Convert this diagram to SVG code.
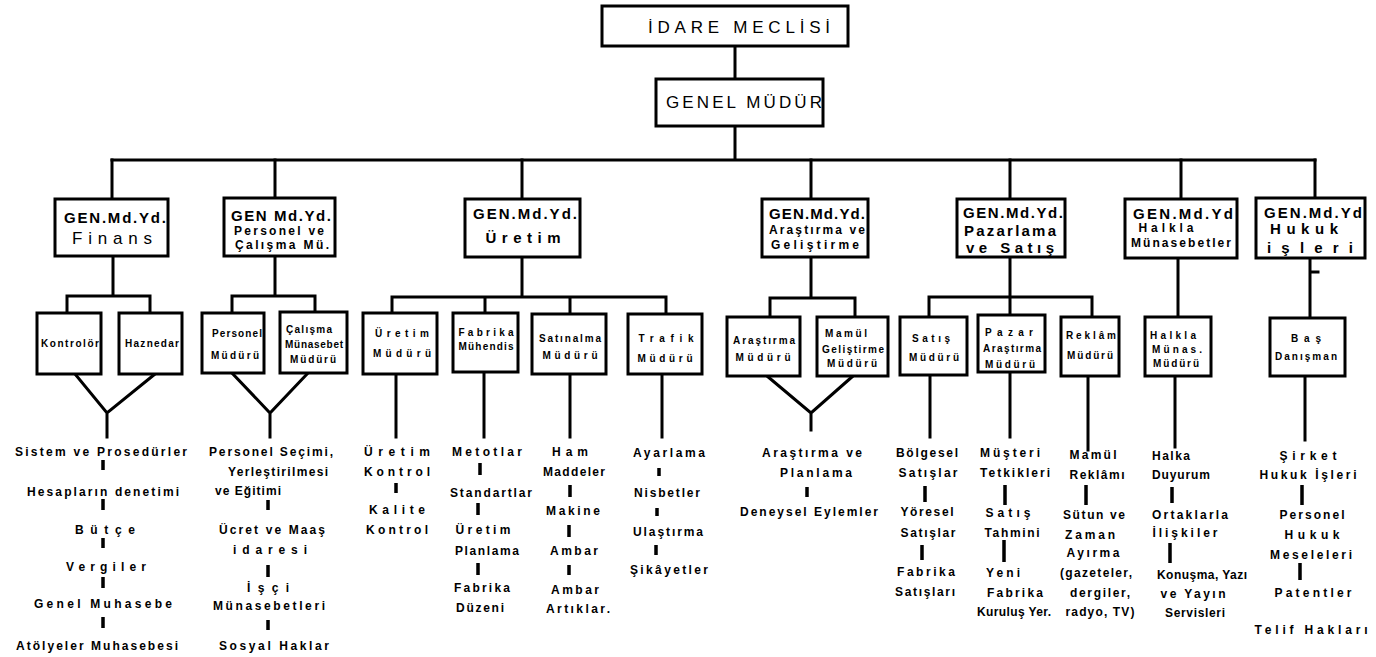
<svg xmlns="http://www.w3.org/2000/svg" width="1376" height="657" viewBox="0 0 1376 657">
<style>
.box{fill:#fff;stroke:#000;stroke-width:3}
.ln{stroke:#000;stroke-width:3;fill:none;stroke-linecap:square}
.tk{stroke:#000;stroke-width:3.5;stroke-linecap:butt}
text{font-family:"Liberation Sans",Arial,sans-serif;fill:#000;text-anchor:middle;dominant-baseline:central;font-weight:bold}
.t1{font-size:17px;font-weight:normal}
.t2{font-size:15px}
.t2s{font-size:12px}
.t3{font-size:10px}
.b{font-size:12px}
</style>
<rect width="1376" height="657" fill="#fff"/>

<g id="connectors">
<path class="ln" d="M735 46V79M735 126V160M112 160H1315"/>
<path class="ln" d="M112 160V199M275 160V198M522 160V199M811 160V199M1010 160V199M1181 160V199M1315 160V198"/>
<path class="ln" d="M113 256V296M67 296H150M67 296V313M150 296V313M75 374L107 413L155 374M107 413V437"/>
<path class="ln" d="M275 256V296M232 296H315M232 296V313M315 296V312M232 373L270 413L308 373M270 413V437"/>
<path class="ln" d="M522 257V297M392 297H666M392 297V313M485 297V313M570 297V314M666 297V314M396 375V437M484 372V437M570 374V437M662 374V437"/>
<path class="ln" d="M811 257V298M770 298H855M770 298V317M855 298V317M767 376L811 413L853 376M811 413V430"/>
<path class="ln" d="M1010 257V297M929 297H1092M929 297V317M1010 297V315M1092 297V317M930 375V437M1010 372V437M1088 376V450"/>
<path class="ln" d="M1178 258V317M1175 376V447"/>
<path class="ln" d="M1310 258V318M1310 272H1318M1305 376V440"/>
<path class="tk" d="M103 460V470M103 499V510M103 538V548M103 577V588M103 617V628"/>
<path class="tk" d="M268 500V510M268 565V577M268 620V630"/>
<path class="tk" d="M396 483V493"/>
<path class="tk" d="M480 463V475M478 503V515M478 563V575"/>
<path class="tk" d="M570 485V497M569 525V537M569 565V575"/>
<path class="tk" d="M659 468V476M657 508V516M656 545V555"/>
<path class="tk" d="M807 487V497"/>
<path class="tk" d="M925 486V502M922 545V560"/>
<path class="tk" d="M1005 485V505M1004 540V562"/>
<path class="tk" d="M1086 485V505"/>
<path class="tk" d="M1172 487V503M1170 543V563"/>
<path class="tk" d="M1302 485V505M1300 563V580"/>
</g>

<g id="idare"><rect class="box" x="602" y="6" width="246" height="40"/><text class="t1" x="739" y="27" textLength="182" lengthAdjust="spacing">İDARE MECLİSİ</text></g>
<g id="genel"><rect class="box" x="656" y="79" width="167" height="47"/><text class="t1" x="744" y="102" textLength="156" lengthAdjust="spacing">GENEL MÜDÜR</text></g>

<g id="finans"><rect class="box" x="55" y="199" width="113" height="57"/><text class="t2" x="115" y="217" textLength="102" lengthAdjust="spacing">GEN.Md.Yd.</text><text class="t1" x="112" y="238" textLength="80" lengthAdjust="spacing">Finans</text></g>
<g id="personel"><rect class="box" x="224" y="198" width="111" height="58"/><text class="t2" x="281" y="215" textLength="100" lengthAdjust="spacing">GEN Md.Yd.</text><text class="b" x="279" y="231" textLength="90" lengthAdjust="spacing">Personel ve</text><text class="b" x="282" y="245" textLength="94" lengthAdjust="spacing">Çalışma Mü.</text></g>
<g id="uretim"><rect class="box" x="465" y="199" width="115" height="58"/><text class="t2" x="525" y="213" textLength="104" lengthAdjust="spacing">GEN.Md.Yd.</text><text class="t2" x="523" y="237" textLength="75" lengthAdjust="spacing">Üretim</text></g>
<g id="arastirma"><rect class="box" x="762" y="199" width="106" height="58"/><text class="t2" x="817" y="213" textLength="96" lengthAdjust="spacing">GEN.Md.Yd.</text><text class="t2s" x="817" y="230" textLength="96" lengthAdjust="spacing">Araştırma ve</text><text class="t2s" x="815" y="245" textLength="88" lengthAdjust="spacing">Geliştirme</text></g>
<g id="pazarlama"><rect class="box" x="957" y="199" width="108" height="58"/><text class="t2" x="1013" y="212" textLength="100" lengthAdjust="spacing">GEN.Md.Yd.</text><text class="t2" x="1010" y="230" textLength="92" lengthAdjust="spacing">Pazarlama</text><text class="t2" x="1010" y="247" textLength="88" lengthAdjust="spacing">ve Satış</text></g>
<g id="halkla"><rect class="box" x="1125" y="199" width="112" height="59"/><text class="t2" x="1183" y="213" textLength="100" lengthAdjust="spacing">GEN.Md.Yd</text><text class="t2s" x="1166" y="228" textLength="55" lengthAdjust="spacing">Halkla</text><text class="t2s" x="1181" y="243" textLength="100" lengthAdjust="spacing">Münasebetler</text></g>
<g id="hukuk"><rect class="box" x="1256" y="198" width="109" height="60"/><text class="t2" x="1313" y="212" textLength="98" lengthAdjust="spacing">GEN.Md.Yd</text><text class="t2" x="1304" y="228" textLength="68" lengthAdjust="spacing">Hukuk</text><text class="t2" x="1310" y="247" textLength="86" lengthAdjust="spacing">işleri</text></g>

<g id="kontrolor"><rect class="box" x="37" y="313" width="64" height="61"/><text class="t3" x="70" y="343" textLength="58" lengthAdjust="spacing">Kontrolör</text></g>
<g id="haznedar"><rect class="box" x="119" y="313" width="63" height="61"/><text class="t3" x="152" y="343" textLength="54" lengthAdjust="spacing">Haznedar</text></g>
<g id="personel-mudur"><rect class="box" x="202" y="313" width="62" height="60"/><text class="t3" x="237" y="333" textLength="50" lengthAdjust="spacing">Personel</text><text class="t3" x="235" y="355" textLength="48" lengthAdjust="spacing">Müdürü</text></g>
<g id="calisma-mudur"><rect class="box" x="280" y="312" width="67" height="61"/><text class="t3" x="309" y="329" textLength="46" lengthAdjust="spacing">Çalışma</text><text class="t3" x="314" y="344" textLength="58" lengthAdjust="spacing">Münasebet</text><text class="t3" x="313" y="359" textLength="46" lengthAdjust="spacing">Müdürü</text></g>

<g id="uretim-mudur"><rect class="box" x="363" y="313" width="74" height="61"/><text class="t3" x="402" y="333" textLength="54" lengthAdjust="spacing">Üretim</text><text class="t3" x="402" y="353" textLength="58" lengthAdjust="spacing">Müdürü</text></g>
<g id="fabrika-muh"><rect class="box" x="453" y="313" width="65" height="59"/><text class="t3" x="486" y="332" textLength="55" lengthAdjust="spacing">Fabrika</text><text class="t3" x="486" y="346" textLength="55" lengthAdjust="spacing">Mühendis</text></g>
<g id="satinalma"><rect class="box" x="532" y="314" width="74" height="60"/><text class="t3" x="570" y="338" textLength="62" lengthAdjust="spacing">Satınalma</text><text class="t3" x="570" y="355" textLength="55" lengthAdjust="spacing">Müdürü</text></g>
<g id="trafik"><rect class="box" x="628" y="314" width="74" height="60"/><text class="t3" x="666" y="338" textLength="55" lengthAdjust="spacing">Trafik</text><text class="t3" x="665" y="358" textLength="55" lengthAdjust="spacing">Müdürü</text></g>

<g id="arastirma-mudur"><rect class="box" x="727" y="317" width="73" height="59"/><text class="t3" x="764" y="340" textLength="62" lengthAdjust="spacing">Araştırma</text><text class="t3" x="763" y="357" textLength="55" lengthAdjust="spacing">Müdürü</text></g>
<g id="mamul-gel"><rect class="box" x="817" y="317" width="71" height="59"/><text class="t3" x="846" y="333" textLength="42" lengthAdjust="spacing">Mamül</text><text class="t3" x="853" y="349" textLength="62" lengthAdjust="spacing">Geliştirme</text><text class="t3" x="852" y="363" textLength="50" lengthAdjust="spacing">Müdürü</text></g>

<g id="satis-mudur"><rect class="box" x="900" y="317" width="67" height="58"/><text class="t3" x="931" y="338" textLength="38" lengthAdjust="spacing">Satış</text><text class="t3" x="934" y="357" textLength="50" lengthAdjust="spacing">Müdürü</text></g>
<g id="pazar-arastirma"><rect class="box" x="978" y="315" width="67" height="57"/><text class="t3" x="1009" y="332" textLength="48" lengthAdjust="spacing">Pazar</text><text class="t3" x="1012" y="348" textLength="58" lengthAdjust="spacing">Araştırma</text><text class="t3" x="1010" y="364" textLength="50" lengthAdjust="spacing">Müdürü</text></g>
<g id="reklam"><rect class="box" x="1061" y="317" width="58" height="59"/><text class="t3" x="1091" y="335" textLength="50" lengthAdjust="spacing">Reklâm</text><text class="t3" x="1090" y="355" textLength="46" lengthAdjust="spacing">Müdürü</text></g>
<g id="halkla-mudur"><rect class="box" x="1145" y="317" width="66" height="59"/><text class="t3" x="1173" y="335" textLength="46" lengthAdjust="spacing">Halkla</text><text class="t3" x="1177" y="349" textLength="50" lengthAdjust="spacing">Münas.</text><text class="t3" x="1176" y="363" textLength="46" lengthAdjust="spacing">Müdürü</text></g>
<g id="bas-danisman"><rect class="box" x="1270" y="318" width="75" height="58"/><text class="t3" x="1306" y="338" textLength="30" lengthAdjust="spacing">Baş</text><text class="t3" x="1306" y="356" textLength="62" lengthAdjust="spacing">Danışman</text></g>

<g id="list-finans">
<text class="b" x="101" y="452" textLength="172" lengthAdjust="spacing">Sistem ve Prosedürler</text>
<text class="b" x="103" y="492" textLength="152" lengthAdjust="spacing">Hesapların denetimi</text>
<text class="b" x="105" y="530" textLength="60" lengthAdjust="spacing">Bütçe</text>
<text class="b" x="106" y="567" textLength="80" lengthAdjust="spacing">Vergiler</text>
<text class="b" x="103" y="604" textLength="138" lengthAdjust="spacing">Genel Muhasebe</text>
<text class="b" x="97" y="646" textLength="162" lengthAdjust="spacing">Atölyeler Muhasebesi</text>
</g>
<g id="list-personel">
<text class="b" x="271" y="452" textLength="124" lengthAdjust="spacing">Personel Seçimi,</text>
<text class="b" x="278" y="472" textLength="100" lengthAdjust="spacing">Yerleştirilmesi</text>
<text class="b" x="248" y="491" textLength="66" lengthAdjust="spacing">ve Eğitimi</text>
<text class="b" x="272" y="530" textLength="106" lengthAdjust="spacing">Ücret ve Maaş</text>
<text class="b" x="270" y="550" textLength="74" lengthAdjust="spacing">idaresi</text>
<text class="b" x="268" y="588" textLength="42" lengthAdjust="spacing">İşçi</text>
<text class="b" x="269" y="606" textLength="112" lengthAdjust="spacing">Münasebetleri</text>
<text class="b" x="274" y="646" textLength="110" lengthAdjust="spacing">Sosyal Haklar</text>
</g>
<g id="list-uretim">
<text class="b" x="397" y="452" textLength="66" lengthAdjust="spacing">Üretim</text>
<text class="b" x="397" y="472" textLength="66" lengthAdjust="spacing">Kontrol</text>
<text class="b" x="397" y="510" textLength="56" lengthAdjust="spacing">Kalite</text>
<text class="b" x="397" y="530" textLength="62" lengthAdjust="spacing">Kontrol</text>
</g>
<g id="list-fabrika">
<text class="b" x="487" y="452" textLength="70" lengthAdjust="spacing">Metotlar</text>
<text class="b" x="491" y="493" textLength="82" lengthAdjust="spacing">Standartlar</text>
<text class="b" x="483" y="530" textLength="55" lengthAdjust="spacing">Üretim</text>
<text class="b" x="487" y="551" textLength="64" lengthAdjust="spacing">Planlama</text>
<text class="b" x="482" y="588" textLength="56" lengthAdjust="spacing">Fabrika</text>
<text class="b" x="480" y="608" textLength="48" lengthAdjust="spacing">Düzeni</text>
</g>
<g id="list-satinalma">
<text class="b" x="570" y="452" textLength="36" lengthAdjust="spacing">Ham</text>
<text class="b" x="574" y="472" textLength="62" lengthAdjust="spacing">Maddeler</text>
<text class="b" x="573" y="511" textLength="54" lengthAdjust="spacing">Makine</text>
<text class="b" x="574" y="551" textLength="48" lengthAdjust="spacing">Ambar</text>
<text class="b" x="575" y="590" textLength="48" lengthAdjust="spacing">Ambar</text>
<text class="b" x="578" y="609" textLength="64" lengthAdjust="spacing">Artıklar.</text>
</g>
<g id="list-trafik">
<text class="b" x="669" y="453" textLength="72" lengthAdjust="spacing">Ayarlama</text>
<text class="b" x="667" y="493" textLength="66" lengthAdjust="spacing">Nisbetler</text>
<text class="b" x="668" y="532" textLength="70" lengthAdjust="spacing">Ulaştırma</text>
<text class="b" x="669" y="570" textLength="78" lengthAdjust="spacing">Şikâyetler</text>
</g>
<g id="list-arastirma">
<text class="b" x="812" y="453" textLength="100" lengthAdjust="spacing">Araştırma ve</text>
<text class="b" x="816" y="473" textLength="72" lengthAdjust="spacing">Planlama</text>
<text class="b" x="809" y="512" textLength="138" lengthAdjust="spacing">Deneysel Eylemler</text>
</g>
<g id="list-satis">
<text class="b" x="927" y="453" textLength="62" lengthAdjust="spacing">Bölgesel</text>
<text class="b" x="928" y="473" textLength="59" lengthAdjust="spacing">Satışlar</text>
<text class="b" x="927" y="512" textLength="53" lengthAdjust="spacing">Yöresel</text>
<text class="b" x="928" y="533" textLength="55" lengthAdjust="spacing">Satışlar</text>
<text class="b" x="926" y="572" textLength="58" lengthAdjust="spacing">Fabrika</text>
<text class="b" x="925" y="592" textLength="60" lengthAdjust="spacing">Satışları</text>
</g>
<g id="list-pazar">
<text class="b" x="1010" y="453" textLength="60" lengthAdjust="spacing">Müşteri</text>
<text class="b" x="1015" y="473" textLength="70" lengthAdjust="spacing">Tetkikleri</text>
<text class="b" x="1008" y="513" textLength="45" lengthAdjust="spacing">Satış</text>
<text class="b" x="1012" y="533" textLength="55" lengthAdjust="spacing">Tahmini</text>
<text class="b" x="1003" y="573" textLength="34" lengthAdjust="spacing">Yeni</text>
<text class="b" x="1015" y="593" textLength="56" lengthAdjust="spacing">Fabrika</text>
<text class="b" x="1014" y="612" textLength="74" lengthAdjust="spacing">Kuruluş Yer.</text>
</g>
<g id="list-reklam">
<text class="b" x="1093" y="455" textLength="47" lengthAdjust="spacing">Mamül</text>
<text class="b" x="1097" y="475" textLength="55" lengthAdjust="spacing">Reklâmı</text>
<text class="b" x="1094" y="515" textLength="62" lengthAdjust="spacing">Sütun ve</text>
<text class="b" x="1090" y="535" textLength="50" lengthAdjust="spacing">Zaman</text>
<text class="b" x="1093" y="553" textLength="53" lengthAdjust="spacing">Ayırma</text>
<text class="b" x="1096" y="573" textLength="72" lengthAdjust="spacing">(gazeteler,</text>
<text class="b" x="1100" y="593" textLength="60" lengthAdjust="spacing">dergiler,</text>
<text class="b" x="1100" y="612" textLength="69" lengthAdjust="spacing">radyo, TV)</text>
</g>
<g id="list-halkla">
<text class="b" x="1171" y="456" textLength="38" lengthAdjust="spacing">Halka</text>
<text class="b" x="1181" y="475" textLength="58" lengthAdjust="spacing">Duyurum</text>
<text class="b" x="1190" y="515" textLength="76" lengthAdjust="spacing">Ortaklarla</text>
<text class="b" x="1185" y="533" textLength="65" lengthAdjust="spacing">İlişkiler</text>
<text class="b" x="1202" y="575" textLength="90" lengthAdjust="spacing">Konuşma, Yazı</text>
<text class="b" x="1193" y="594" textLength="65" lengthAdjust="spacing">ve Yayın</text>
<text class="b" x="1195" y="613" textLength="60" lengthAdjust="spacing">Servisleri</text>
</g>
<g id="list-hukuk">
<text class="b" x="1308" y="456" textLength="57" lengthAdjust="spacing">Şirket</text>
<text class="b" x="1308" y="475" textLength="97" lengthAdjust="spacing">Hukuk İşleri</text>
<text class="b" x="1312" y="515" textLength="65" lengthAdjust="spacing">Personel</text>
<text class="b" x="1312" y="535" textLength="55" lengthAdjust="spacing">Hukuk</text>
<text class="b" x="1311" y="555" textLength="82" lengthAdjust="spacing">Meseleleri</text>
<text class="b" x="1313" y="593" textLength="77" lengthAdjust="spacing">Patentler</text>
<text class="b" x="1311" y="630" textLength="113" lengthAdjust="spacing">Telif Hakları</text>
</g>
</svg>
